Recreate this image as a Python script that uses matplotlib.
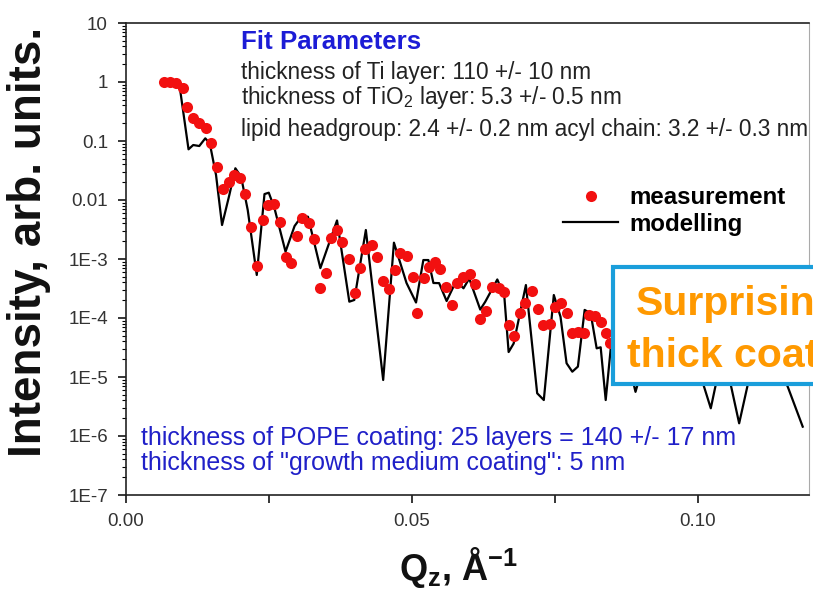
import numpy as np
import matplotlib
matplotlib.use('Agg')
import matplotlib.pyplot as plt
from matplotlib.ticker import FixedLocator, FixedFormatter, LogLocator, NullFormatter, MultipleLocator
from matplotlib.patches import Rectangle

plt.rcParams['font.family'] = ['Liberation Sans', 'DejaVu Sans']
plt.rcParams['mathtext.fontset'] = 'custom'
plt.rcParams['mathtext.rm'] = 'Liberation Sans'
plt.rcParams['mathtext.it'] = 'Liberation Sans:italic'
plt.rcParams['mathtext.bf'] = 'Liberation Sans:bold'

# Messpunkte (Reflektivitaet)
meas_q = [0.00667, 0.00767, 0.00872, 0.00988, 0.01075, 0.01175, 0.01281, 0.01398, 0.01486, 0.01584,
          0.01689, 0.01795, 0.01895, 0.01995, 0.02088, 0.02188, 0.02286, 0.02391, 0.02479, 0.02596,
          0.02696, 0.02802, 0.02889, 0.02988, 0.03082, 0.03198, 0.03286, 0.03386, 0.03491, 0.03591,
          0.03689, 0.03784, 0.03900, 0.04000, 0.04088, 0.04175, 0.04293, 0.04391, 0.04486, 0.04596,
          0.04702, 0.04789, 0.04907, 0.05012, 0.05082, 0.05211, 0.05304, 0.05404, 0.05491, 0.05596,
          0.05696, 0.05795, 0.05900, 0.06005, 0.06093, 0.06193, 0.06298, 0.06398, 0.06514, 0.06602,
          0.06689, 0.06789, 0.06895, 0.06982, 0.07100, 0.07198, 0.07286, 0.07409, 0.07491, 0.07596,
          0.07702, 0.07802, 0.07900, 0.08005, 0.08093, 0.08193, 0.08298, 0.08386, 0.08461]
meas_i = [1.01, 1.01, 0.97, 0.78, 0.38, 0.243, 0.204, 0.164, 0.0936, 0.0367,
          0.0152, 0.0204, 0.0265, 0.0233, 0.0126, 3.53e-3, 7.6e-4, 4.58e-3, 8.2e-3, 8.55e-3,
          4.29e-3, 1.07e-3, 8.65e-4, 2.45e-3, 4.9e-3, 4.12e-3, 2.16e-3, 3.19e-4, 5.73e-4, 2.24e-3,
          3.10e-3, 1.96e-3, 9.9e-4, 2.68e-4, 6.95e-4, 1.46e-3, 1.73e-3, 1.07e-3, 4.24e-4, 3.06e-4,
          6.5e-4, 1.28e-3, 1.12e-3, 5.0e-4, 1.23e-4, 4.71e-4, 7.23e-4, 9.0e-4, 6.7e-4, 3.4e-4,
          1.66e-4, 3.87e-4, 5.0e-4, 5.57e-4, 3.77e-4, 9.5e-5, 1.33e-4, 3.31e-4, 3.2e-4, 2.79e-4,
          7.6e-5, 4.95e-5, 1.23e-4, 1.77e-4, 2.9e-4, 1.40e-4, 7.6e-5, 7.8e-5, 1.52e-4, 1.82e-4,
          1.23e-4, 5.5e-5, 5.9e-5, 5.5e-5, 1.12e-4, 1.08e-4, 8.65e-5, 5.5e-5, 3.7e-5]

# Modellkurve
model_q = [0.00877, 0.00947, 0.01093, 0.01175, 0.01281, 0.01386, 0.01465, 0.01574, 0.01679, 0.01807,
           0.01912, 0.02012, 0.02128, 0.02286, 0.02421, 0.02496, 0.02596, 0.02789, 0.02947, 0.03065,
           0.03181, 0.03398, 0.03689, 0.03904, 0.03991, 0.04193, 0.04496, 0.04684, 0.04904, 0.05070,
           0.05198, 0.05286, 0.05374, 0.05474, 0.05605, 0.05772, 0.05900, 0.06000, 0.06193, 0.06281,
           0.06491, 0.06614, 0.06689, 0.06777, 0.06991, 0.07188, 0.07304, 0.07479, 0.07596, 0.07702,
           0.07802, 0.07900, 0.08018, 0.08123, 0.08228, 0.08298, 0.08386, 0.08474, 0.08649, 0.08907,
           0.09140, 0.09351, 0.09614, 0.09877, 0.10223, 0.10439, 0.10719, 0.10965, 0.11281, 0.11567,
           0.11830]
model_i = [0.96, 0.73, 0.0723, 0.0855, 0.0822, 0.111, 0.0907, 0.0265, 3.77e-3, 0.0122,
           0.0345, 0.0248, 6.77e-3, 5.36e-4, 0.0126, 0.0133, 7.23e-3, 1.33e-3, 3.62e-3, 5.21e-3,
           5.21e-3, 7.0e-4, 4.5e-3, 1.89e-4, 2.02e-4, 3.10e-3, 8.9e-6, 1.89e-3, 3.92e-4, 1.83e-4,
           9.6e-4, 9.6e-4, 3.92e-4, 3.9e-4, 1.94e-4, 4.24e-4, 3.19e-4, 4.67e-4, 1.39e-4, 1.89e-4,
           4.5e-4, 2.30e-4, 2.65e-5, 3.7e-5, 3.62e-4, 5.3e-6, 4.07e-6, 2.45e-4, 1.05e-4, 1.71e-5,
           1.23e-5, 1.50e-5, 1.37e-4, 1.20e-4, 3.06e-5, 3.19e-5, 4.07e-6, 3.06e-5, 6.3e-5, 5.6e-6,
           3.5e-5, 5.2e-5, 2.9e-5, 3.5e-5, 2.95e-6, 2.9e-5, 1.64e-6, 1.94e-5, 2.36e-5, 6.9e-6,
           1.44e-6]

y_ticks = [10, 1, 0.1, 0.01, 1e-3, 1e-4, 1e-5, 1e-6, 1e-7]
y_ticklabels = ['10', '1', '0.1', '0.01', '1E-3', '1E-4', '1E-5', '1E-6', '1E-7']
x_ticks = [0.00, 0.05, 0.10]
x_ticklabels = ['0.00', '0.05', '0.10']

W, H = 813, 597
fig = plt.figure(figsize=(W / 100, H / 100), dpi=100)
fx = lambda px: px / W
fy = lambda py: 1 - py / H

ax = fig.add_axes([fx(126), fy(495), fx(809) - fx(126), fy(23) - fy(495)])
ax.plot(model_q, model_i, color='black', linewidth=1.6, label='modelling', zorder=2)
ax.plot(meas_q, meas_i, linestyle='none', marker='o', markersize=8, color='#f21010',
        markeredgewidth=0, label='measurement', zorder=3)

ax.set_yscale('log')
ax.set_ylim(1e-7, 10)
ax.set_xlim(0, 0.1194)

ax.yaxis.set_major_locator(FixedLocator(y_ticks))
ax.yaxis.set_major_formatter(FixedFormatter(y_ticklabels))
ax.yaxis.set_minor_locator(LogLocator(base=10, subs=np.arange(2, 10)))
ax.yaxis.set_minor_formatter(NullFormatter())
ax.xaxis.set_major_locator(FixedLocator(x_ticks))
ax.xaxis.set_major_formatter(FixedFormatter(x_ticklabels))
ax.xaxis.set_minor_locator(MultipleLocator(0.025))

ax.tick_params(which='major', direction='out', length=6, width=1.1, labelsize=13.5,
               labelcolor='#333333', pad=7)
ax.tick_params(axis='y', which='minor', direction='out', length=3, width=0.8)
ax.tick_params(axis='x', which='minor', direction='out', length=6, width=1.1)
ax.tick_params(top=False, right=False)

for s in ['left', 'bottom', 'top']:
    ax.spines[s].set_linewidth(1.2)
    ax.spines[s].set_color('#222222')
ax.spines['right'].set_color('#aaaaaa')

# Achsenbeschriftungen
fig.text(fx(29), fy(242), 'Intensity, arb. units.', rotation=90, fontsize=33,
         fontweight='bold', ha='center', va='center', color='#111111')
fig.text(fx(458), fy(568), r'Q$_\mathbf{z}$, Å$^\mathbf{-1}$', fontsize=26,
         fontweight='bold', ha='center', va='center', color='#111111')

# Fit-Parameter
fig.text(fx(241), fy(49), 'Fit Parameters', fontsize=18.6, fontweight='bold',
         color='#1c1cd6', ha='left', va='baseline')
fig.text(fx(241), fy(79), 'thickness of Ti layer: 110 +/- 10 nm', fontsize=16.3,
         color='#222222', ha='left', va='baseline')
fig.text(fx(241), fy(104), r'thickness of TiO$_2$ layer: 5.3 +/- 0.5 nm', fontsize=16.3,
         color='#222222', ha='left', va='baseline')
fig.text(fx(241), fy(136), 'lipid headgroup: 2.4 +/- 0.2 nm acyl chain: 3.2 +/- 0.3 nm',
         fontsize=16.3, color='#222222', ha='left', va='baseline')

fig.text(fx(141), fy(445), 'thickness of POPE coating: 25 layers = 140 +/- 17 nm',
         fontsize=18, color='#2020c8', ha='left', va='baseline')
fig.text(fx(141), fy(470), 'thickness of "growth medium coating": 5 nm',
         fontsize=18, color='#2020c8', ha='left', va='baseline')

leg = ax.legend(handles=[ax.lines[1], ax.lines[0]], loc='center left',
                bbox_to_anchor=(fx(563), fy(211)), bbox_transform=fig.transFigure,
                frameon=False, prop={'weight': 'bold', 'size': 17.3}, handlelength=2.3,
                handletextpad=0.45, labelspacing=0.15, borderpad=0, borderaxespad=0)

# Hinweis-Kasten (rechts im Original abgeschnitten)
box = Rectangle((fx(613), fy(384)), 0.4, fy(267) - fy(384), transform=fig.transFigure,
                facecolor='white', edgecolor='#1a9edb', linewidth=3, zorder=5)
fig.add_artist(box)
fig.text(fx(636), fy(315), 'Surprisingly', fontsize=29.5, fontweight='bold',
         color='#ff9900', ha='left', va='baseline', zorder=6)
fig.text(fx(627), fy(367), 'thick coating', fontsize=29.5, fontweight='bold',
         color='#ff9900', ha='left', va='baseline', zorder=6)

fig.savefig('out.png', dpi=100)
